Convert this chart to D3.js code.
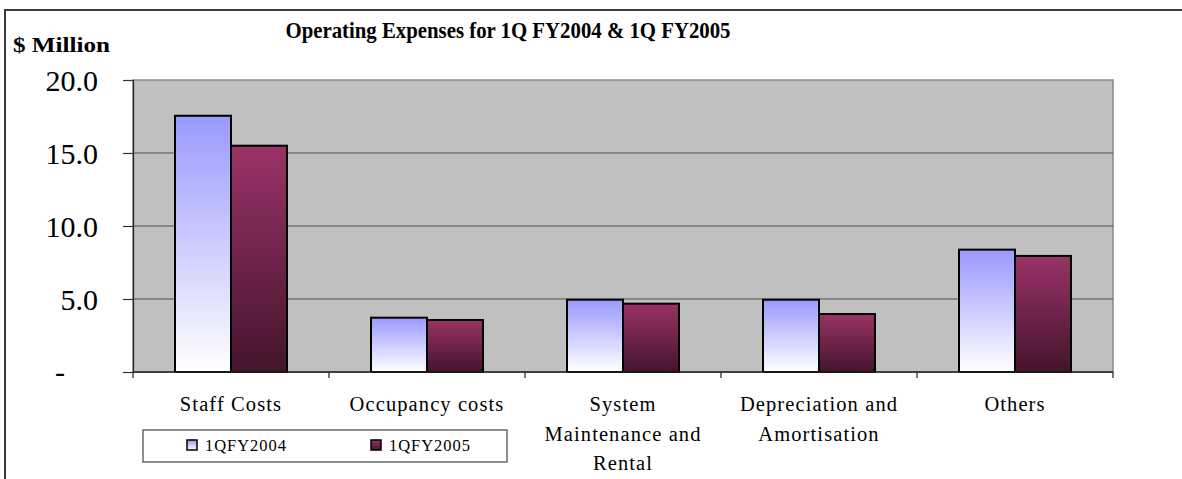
<!DOCTYPE html>
<html>
<head>
<meta charset="utf-8">
<script src="https://cdn.jsdelivr.net/npm/d3@7"></script>
<style>
  body { margin: 0; background: #fff; }
  svg { display: block; font-family: "Liberation Serif", "Times New Roman", serif; }
</style>
</head>
<body>
<svg id="chart" width="1182" height="479"></svg>
<script>
const categories = ["Staff Costs", "Occupancy costs", "System Maintenance and Rental", "Depreciation and Amortisation", "Others"];
const categoryLines = [["Staff Costs"], ["Occupancy costs"], ["System", "Maintenance and", "Rental"], ["Depreciation and", "Amortisation"], ["Others"]];
const seriesNames = ["1QFY2004", "1QFY2005"];
const fy2004 = [17.55, 3.72, 4.95, 4.95, 8.38];
const fy2005 = [15.5, 3.56, 4.68, 3.97, 7.95];
const yTicks = [0, 5, 10, 15, 20];

const svg = d3.select("#chart");
const plot = { left: 133, right: 1113, top: 80, bottom: 372 };

// outer frame (cropped at right and bottom)
svg.append("rect")
  .attr("x", 5).attr("y", 10)
  .attr("width", 1200).attr("height", 500)
  .attr("fill", "none").attr("stroke", "#3a3a3a").attr("stroke-width", 2);

const defs = svg.append("defs");
const gBlue = defs.append("linearGradient").attr("id", "gBlue")
  .attr("x1", 0).attr("y1", 0).attr("x2", 0).attr("y2", 1);
gBlue.append("stop").attr("offset", "0%").attr("stop-color", "#9999ff");
gBlue.append("stop").attr("offset", "100%").attr("stop-color", "#ffffff");
const gRed = defs.append("linearGradient").attr("id", "gRed")
  .attr("x1", 0).attr("y1", 0).attr("x2", 0).attr("y2", 1);
gRed.append("stop").attr("offset", "0%").attr("stop-color", "#993366");
gRed.append("stop").attr("offset", "100%").attr("stop-color", "#44142e");

const x = d3.scaleBand().domain(categories).range([plot.left, plot.right]).padding(0);
const xs = d3.scaleBand().domain(seriesNames).range([0, x.bandwidth()])
  .paddingInner(0).paddingOuter(0.75);
const y = d3.scaleLinear().domain([0, 20]).range([plot.bottom, plot.top]);

// plot area
svg.append("rect")
  .attr("x", plot.left).attr("y", plot.top)
  .attr("width", plot.right - plot.left).attr("height", plot.bottom - plot.top)
  .attr("fill", "#c0c0c0").attr("stroke", "#8a8a8a").attr("stroke-width", 1.5);

// gridlines
svg.append("g").selectAll("line")
  .data(yTicks.filter(d => d > 0 && d < 20))
  .join("line")
  .attr("x1", plot.left).attr("x2", plot.right)
  .attr("y1", d => y(d)).attr("y2", d => y(d))
  .attr("stroke", "#505050").attr("stroke-width", 1.2);

// y axis
const yAxis = svg.append("g")
  .attr("transform", `translate(${plot.left},0)`)
  .call(d3.axisLeft(y).tickValues(yTicks).tickSize(10).tickPadding(25)
    .tickFormat(d => d === 0 ? "-" : d3.format(".1f")(d)));
yAxis.select(".domain").attr("stroke", "#222").attr("stroke-width", 1.2);
yAxis.selectAll(".tick line").attr("stroke", "#333").attr("stroke-width", 1.2);
yAxis.selectAll(".tick text")
  .attr("font-size", 30).attr("fill", "#000").attr("dy", "0.36em")
  .attr("font-family", "Liberation Serif");
yAxis.selectAll(".tick").filter(d => d === 0).select("text").attr("x", -68).attr("dy", "0.3em");

// bars
const groups = svg.append("g").selectAll("g")
  .data(categories)
  .join("g")
  .attr("transform", d => `translate(${x(d)},0)`);
groups.selectAll("rect")
  .data((d, i) => [
    { key: seriesNames[0], value: fy2004[i], fill: "url(#gBlue)" },
    { key: seriesNames[1], value: fy2005[i], fill: "url(#gRed)" }
  ])
  .join("rect")
  .attr("x", d => xs(d.key))
  .attr("y", d => y(d.value))
  .attr("width", xs.bandwidth())
  .attr("height", d => y(0) - y(d.value))
  .attr("fill", d => d.fill)
  .attr("stroke", "#000").attr("stroke-width", 2);

// x axis
const xAxis = svg.append("g").attr("transform", `translate(0,${plot.bottom})`);
xAxis.append("line").attr("x1", plot.left).attr("x2", plot.right)
  .attr("stroke", "#222").attr("stroke-width", 1.5);
xAxis.selectAll(".tk")
  .data(categories.map(c => x(c)).concat([plot.right]).slice(1))
  .join("line")
  .attr("x1", d => d).attr("x2", d => d)
  .attr("y1", 0).attr("y2", 6)
  .attr("stroke", "#222").attr("stroke-width", 1.2);
xAxis.append("line").attr("x1", plot.left).attr("x2", plot.left)
  .attr("y1", 0).attr("y2", 6).attr("stroke", "#222").attr("stroke-width", 1.2);

const labels = svg.append("g").selectAll("text")
  .data(categories)
  .join("text")
  .attr("text-anchor", "middle")
  .attr("font-size", 20.5)
  .attr("letter-spacing", 1.1)
  .attr("fill", "#000")
  .attr("transform", d => `translate(${x(d) + x.bandwidth() / 2},411)`);
labels.selectAll("tspan")
  .data((d, i) => categoryLines[i])
  .join("tspan")
  .attr("x", 0)
  .attr("y", (d, i) => i * 29.5)
  .text(d => d);

// title
svg.append("text")
  .attr("x", 508).attr("y", 38)
  .attr("text-anchor", "middle")
  .attr("font-size", 23).attr("font-weight", "bold")
  .attr("textLength", 445)
  .attr("lengthAdjust", "spacingAndGlyphs")
  .text("Operating Expenses for 1Q FY2004 & 1Q FY2005");

svg.append("text")
  .attr("x", 13).attr("y", 52)
  .attr("font-size", 22).attr("font-weight", "bold")
  .attr("textLength", 97)
  .attr("lengthAdjust", "spacingAndGlyphs")
  .text("$ Million");

// legend
const legend = svg.append("g");
legend.append("rect")
  .attr("x", 143).attr("y", 430).attr("width", 364).attr("height", 32)
  .attr("fill", "#fff").attr("stroke", "#444").attr("stroke-width", 1.2);
const legendX = [187, 371];
const legendFill = ["url(#gBlue)", "url(#gRed)"];
const li = legend.selectAll("g.item")
  .data(seriesNames)
  .join("g").attr("class", "item")
  .attr("transform", (d, i) => `translate(${legendX[i]},440)`);
li.append("rect")
  .attr("width", 10).attr("height", 10)
  .attr("fill", (d, i) => legendFill[i])
  .attr("stroke", "#000").attr("stroke-width", 1.5);
li.append("text")
  .attr("x", 18).attr("y", 10.5)
  .attr("font-size", 16.5)
  .attr("textLength", 81)
  .text(d => d);
</script>
</body>
</html>
